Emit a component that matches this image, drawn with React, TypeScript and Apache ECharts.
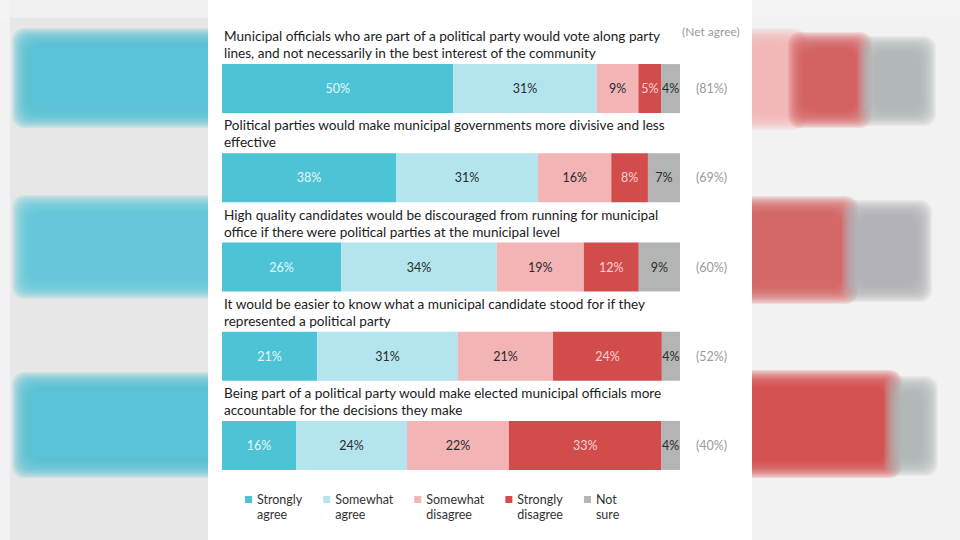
import React, { useEffect, useRef } from "react";
import * as echarts from "echarts";

const questions = [
  "Municipal officials who are part of a political party would vote along party\nlines, and not necessarily in the best interest of the community",
  "Political parties would make municipal governments more divisive and less\neffective",
  "High quality candidates would be discouraged from running for municipal\noffice if there were political parties at the municipal level",
  "It would be easier to know what a municipal candidate stood for if they\nrepresented a political party",
  "Being part of a political party would make elected municipal officials more\naccountable for the decisions they make",
];

const seriesNames = ["Strongly agree", "Somewhat agree", "Somewhat disagree", "Strongly disagree", "Not sure"];
const stronglyAgree = [50, 38, 26, 21, 16];
const somewhatAgree = [31, 31, 34, 31, 24];
const somewhatDisagree = [9, 16, 19, 21, 22];
const stronglyDisagree = [5, 8, 12, 24, 33];
const notSure = [4, 7, 9, 4, 4];

const colors = ["#4dc3d6", "#b4e5ef", "#f3b4b6", "#d34c4c", "#b3b5b5"];
const labelColors = ["#e4f7fa", "#2b2b2b", "#2b2b2b", "#f8d2d2", "#2b2b2b"];

export default function App() {
  const ref = useRef<HTMLDivElement>(null);
  useEffect(() => {
    if (!ref.current) return;
    const chart = echarts.init(ref.current, undefined, { renderer: "svg" });
    const all = [stronglyAgree, somewhatAgree, somewhatDisagree, stronglyDisagree, notSure];
    const totals = questions.map((_, i) => all.reduce((s, arr) => s + arr[i], 0));
    const netAgree = questions.map((_, i) => `(${stronglyAgree[i] + somewhatAgree[i]}%)`);
    const font = "Lato, 'Open Sans', sans-serif";

    // soft, blurred decoration: many thin layers with low opacity
    const blob = (x: number, y: number, w: number, h: number, color: string) => {
      const layers: any[] = [];
      const steps = 14;
      for (let k = 0; k < steps; k++) {
        const g = 10 - k * 1.3;
        layers.push({
          type: "rect",
          z: -20,
          silent: true,
          shape: { x: x - g, y: y - g, width: w + 2 * g, height: h + 2 * g, r: 12 },
          style: { fill: color, opacity: 0.16 },
        });
      }
      return layers;
    };

    chart.setOption({
      animation: false,
      backgroundColor: "#ededed",
      textStyle: { fontFamily: font },
      graphic: [
        { type: "rect", z: -30, silent: true, shape: { x: 0, y: 0, width: 210, height: 540 }, style: { fill: "#e7e7e7" } },
        { type: "rect", z: -30, silent: true, shape: { x: 750, y: 0, width: 210, height: 540 }, style: { fill: "#f2f2f2" } },
        { type: "rect", z: -29, silent: true, shape: { x: 0, y: 0, width: 960, height: 18 }, style: { fill: "#f3f3f3", opacity: 0.8 } },
        { type: "rect", z: -29, silent: true, shape: { x: 0, y: 0, width: 10, height: 540 }, style: { fill: "#f5f5f5", opacity: 0.8 } },
        ...blob(22, 38, 220, 80, "#4fc3d5"),
        ...blob(22, 205, 220, 84, "#5bc7d8"),
        ...blob(22, 382, 220, 86, "#4fc3d5"),
        ...blob(740, 38, 56, 82, "#f0b4b6"),
        ...blob(798, 42, 64, 76, "#d5585a"),
        ...blob(868, 46, 58, 70, "#aeb2b3"),
        ...blob(740, 206, 108, 88, "#d45d5d"),
        ...blob(852, 210, 70, 82, "#adb1b2"),
        ...blob(740, 380, 152, 88, "#d14645"),
        ...blob(894, 386, 34, 80, "#aeb2b3"),
        { type: "rect", z: -10, silent: true, shape: { x: 208, y: 0, width: 544, height: 540 }, style: { fill: "#ffffff" } },
        {
          type: "text",
          z: 10,
          left: 682,
          top: 25,
          style: { text: "(Net agree)", fill: "#9a9a9a", fontSize: 12, fontFamily: font },
        },
      ],
      legend: {
        left: 245,
        top: 492,
        padding: 0,
        itemWidth: 7,
        itemHeight: 22,
        itemGap: 21,
        icon: "path://M0,0L7,0L7,7L0,7Z M0,22L0.01,22Z",
        data: seriesNames,
        formatter: (name: string) => name.replace(" ", "\n"),
        textStyle: { fontSize: 12.5, color: "#333", lineHeight: 15, fontFamily: font },
      },
      grid: { left: 222, right: 280, top: 44, bottom: 50 },
      xAxis: { type: "value", min: 0, max: 100, show: false },
      yAxis: [
        {
          type: "category",
          inverse: true,
          data: questions,
          axisLine: { show: false },
          axisTick: { show: false },
          axisLabel: {
            inside: true,
            interval: 0,
            margin: 2,
            align: "left",
            verticalAlign: "bottom",
            padding: [0, 0, 27, 0],
            fontSize: 13.6,
            lineHeight: 17,
            color: "#1c1c1c",
            fontFamily: font,
          },
          z: 5,
        },
        {
          type: "category",
          inverse: true,
          position: "right",
          data: netAgree,
          axisLine: { show: false },
          axisTick: { show: false },
          axisLabel: { margin: 16, fontSize: 12.5, color: "#9a9a9a", fontFamily: font },
        },
      ],
      series: all.map((arr, si) => ({
        name: seriesNames[si],
        type: "bar",
        stack: "total",
        barWidth: 49,
        itemStyle: { color: colors[si] },
        label: {
          show: true,
          position: "inside",
          color: labelColors[si],
          fontSize: 12.5,
          fontFamily: font,
          formatter: (p: any) => `${p.data.raw}%`,
        },
        data: arr.map((v, i) => ({ value: (v / totals[i]) * 100, raw: v })),
      })),
    });
    return () => chart.dispose();
  }, []);
  return <div ref={ref} style={{ width: 960, height: 540, position: "fixed", left: 0, top: 0 }} />;
}
